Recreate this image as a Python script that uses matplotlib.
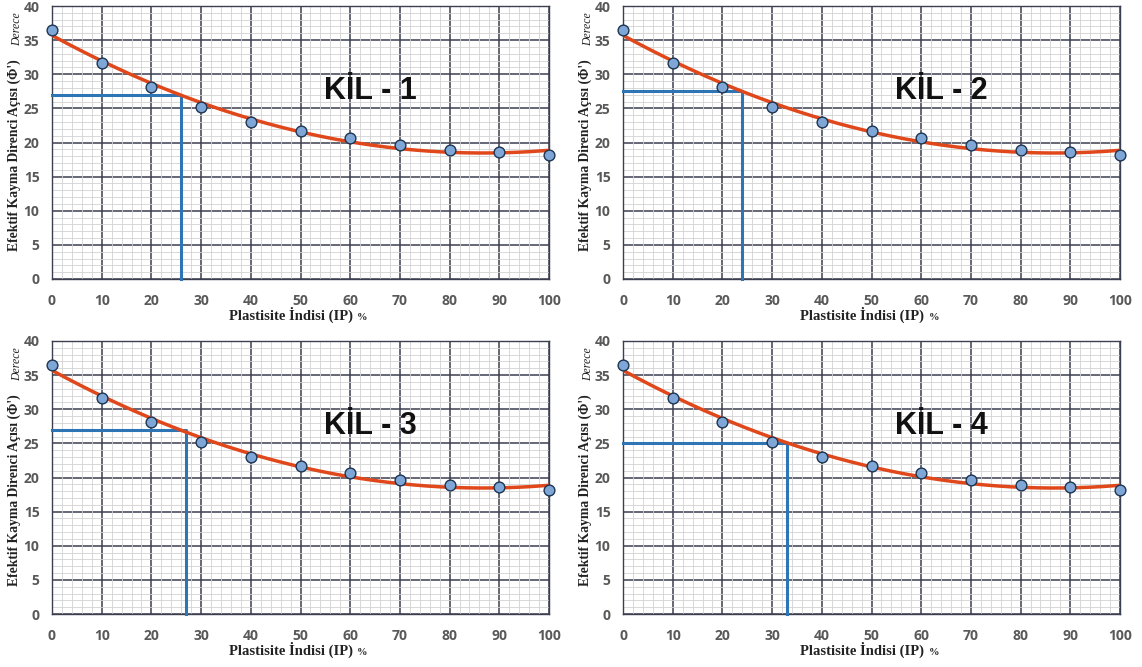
import numpy as np
import matplotlib.pyplot as plt
from matplotlib.ticker import MultipleLocator

# Measured points (same in all four panels)
ip_values  = [0, 10, 20, 30, 40, 50, 60, 70, 80, 90, 100]
phi_values = [36.5, 31.7, 28.2, 25.2, 23.0, 21.7, 20.6, 19.7, 18.9, 18.6, 18.2]

# Read-off lines for each clay
clay_names = ["KİL - 1", "KİL - 2", "KİL - 3", "KİL - 4"]
clay_ip    = [26, 24, 27, 33]
clay_phi   = [27.0, 27.5, 27.0, 25.0]

x_ticks = list(range(0, 101, 10))
y_ticks = list(range(0, 41, 5))

TICK_COL  = "#595959"
MAJOR_COL = "#3c3f4f"
MINOR_COL = "#d2d2d2"

fig = plt.figure(figsize=(11.42, 6.67), dpi=100)

# quadratic trendline through the points
coef = np.polyfit(ip_values, phi_values, 2)
xs = np.linspace(0, 100, 300)
ys = np.polyval(coef, xs)

lefts   = [52, 623, 52, 623]
tops    = [6, 6, 341, 341]
W, H    = 497, 273
FW, FH  = 1142, 667

for i, name in enumerate(clay_names):
    ax = fig.add_axes([lefts[i] / FW, 1 - (tops[i] + H) / FH, W / FW, H / FH])
    ax.set_xlim(0, 100)
    ax.set_ylim(0, 40)
    ax.set_xticks(x_ticks)
    ax.set_yticks(y_ticks)
    ax.xaxis.set_minor_locator(MultipleLocator(2))
    ax.yaxis.set_minor_locator(MultipleLocator(1))
    ax.grid(which="minor", color=MINOR_COL, lw=0.6, zorder=0)
    # major grid drawn on top of the minor one
    ax.vlines(x_ticks, 0, 40, color=MAJOR_COL, lw=1.1, zorder=1)
    ax.hlines(y_ticks, 0, 100, color=MAJOR_COL, lw=1.1, zorder=1)
    for s in ax.spines.values():
        s.set_color(MAJOR_COL)
        s.set_linewidth(1.0)
    ax.tick_params(which="both", length=0, labelsize=10, labelcolor=TICK_COL)
    ax.tick_params(axis="x", pad=11)
    ax.tick_params(axis="y", pad=9)
    for lab in ax.get_xticklabels() + ax.get_yticklabels():
        lab.set_fontfamily("Open Sans")
        lab.set_fontweight("bold")

    # read-off lines
    ax.plot([0, clay_ip[i], clay_ip[i]], [clay_phi[i], clay_phi[i], 0],
            color="#2e75b6", lw=2.2, zorder=3, clip_on=False)
    ax.plot(xs, ys, color="#e0481c", lw=2.5, zorder=4)
    ax.scatter(ip_values, phi_values, s=60, color="#7ea6d6", edgecolor="#1d3550",
               lw=1.0, zorder=5, clip_on=False)

    ax.text(64, 27.6, name, fontsize=22, fontweight="bold", family="Liberation Sans",
            ha="center", va="center", color="#111111", zorder=6)

    # axis labels
    ax.text(0.48, -0.15, "Plastisite İndisi (IP)", transform=ax.transAxes,
            family="Liberation Serif", fontweight="bold", fontsize=10.5,
            ha="center", va="baseline", color="#222222")
    ax.text(0.625, -0.15, "%", transform=ax.transAxes,
            family="Liberation Serif", fontweight="bold", fontsize=7.5,
            ha="center", va="baseline", color="#222222")
    ax.text(-0.075, 0.452, "Efektif Kayma Direnci Açısı (Φ')", transform=ax.transAxes,
            family="Liberation Serif", fontweight="bold", fontsize=9.8,
            rotation=90, ha="center", va="center", color="#222222")
    ax.text(-0.071, 0.915, "Derece", transform=ax.transAxes,
            family="Liberation Serif", style="italic", fontsize=8.5,
            rotation=90, ha="center", va="center", color="#222222")

fig.savefig("out.png", dpi=100, facecolor="white")
